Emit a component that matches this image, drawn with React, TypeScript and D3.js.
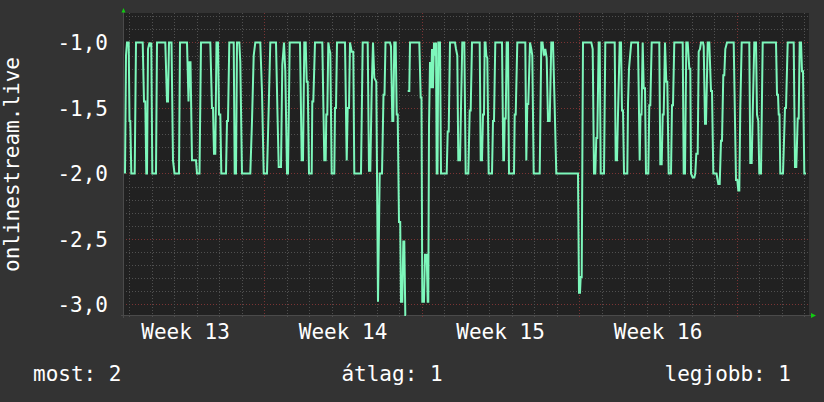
import React from "react";
import * as d3 from "d3";

const W = 824;
const H = 402;
const STEP_MS = 64 * 60 * 1000; // one consolidated row per 64 minutes
const START = Date.UTC(2024, 2, 25, 17, 17);
const N_STEPS = 686;

const Y_DOMAIN: [number, number] = [-3.088, -0.775];
const Y_MAJOR = [-1.0, -1.5, -2.0, -2.5, -3.0];
const Y_MAJOR_LABELS = ["-1,0", "-1,5", "-2,0", "-2,5", "-3,0"];
const AXIS_TITLE = "onlinestream.live";
const LEGEND_NAMES = ["most", "átlag", "legjobb"];
const LEGEND_VALUES = ["2", "1", "1"];
const WEEK_PREFIX = "Week";

// [row index, value] ; null = unknown
const SERIES: [number, number | null][] = [
  [2, -2.0], [3, -1.1], [4, -1.0], [5.7, -1.0], [6.5, -1.6], [7.3, -1.6], [8.3, -2.0], [11.7, -2.0],
  [13, -1.0], [19.7, -1.0], [21, -1.45], [22.3, -1.45], [23.3, -2.0], [24, -2.0], [25, -1.05], [26.5, -1.0],
  [27.5, -1.03], [28.3, -1.0], [29.3, -2.0], [33, -2.0], [34, -1.0], [42.3, -1.0], [44, -1.45], [45, -1.45],
  [46, -1.0], [48.5, -1.0], [50, -1.9], [51.5, -2.0], [56, -2.0], [57, -1.0], [64, -1.0], [65.5, -1.45],
  [66.5, -1.15], [67.5, -1.15], [69, -1.9], [73, -1.9], [74, -2.0], [76.5, -2.0], [78, -1.0], [87.3, -1.0],
  [89, -1.5], [90, -1.5], [91, -1.85], [92.3, -1.85], [93.5, -1.0], [95, -1.0], [96, -1.55], [97.3, -1.55],
  [98.3, -2.0], [103, -2.0], [104, -1.6], [105, -1.6], [106.3, -1.0], [110.7, -1.0], [111.7, -2.0], [113, -2.0],
  [114, -1.0], [116.3, -1.0], [117.3, -1.15], [119, -2.0], [127.3, -2.0], [129, -1.6], [130.7, -1.1], [132.3, -1.0],
  [137.3, -1.0], [139, -1.38], [140.7, -2.0], [144, -2.0], [145.7, -1.5], [147.3, -1.0], [153, -1.0], [154.5, -1.55],
  [155.7, -1.95], [158, -1.95], [159.3, -1.17], [161, -1.0], [162.3, -1.22], [164, -2.0], [165, -2.0], [166.7, -1.0],
  [177, -1.0], [178.7, -1.9], [180, -1.9], [181.3, -1.0], [182.7, -1.0], [183.7, -1.3], [184.7, -1.3], [186, -2.0],
  [188.7, -2.0], [189.3, -1.45], [190.3, -1.45], [192, -1.0], [199.3, -1.0], [201.3, -1.9], [202.7, -1.9], [203.3, -1.55],
  [204.3, -1.55], [205.3, -1.0], [206.3, -1.05], [207.3, -1.08], [208.7, -2.0], [211.3, -2.0], [212, -1.5], [213, -1.5],
  [214, -1.0], [222, -1.0], [223.7, -1.9], [224.7, -1.5], [226, -1.5], [227, -1.0], [228.7, -1.07], [230.3, -1.07],
  [231.3, -2.0], [238, -2.0], [239.7, -1.0], [244.7, -1.0], [246, -1.98], [247.3, -1.98], [248.7, -1.35], [250, -1.0],
  [251.3, -1.27], [253.3, -1.3], [255, -2.98], [256.7, -2.0], [259, -2.0], [260.5, -1.4], [261.5, -1.4], [262.5, -1.0],
  [267, -1.0], [268, -1.03], [269.3, -1.6], [270.3, -1.6], [271.3, -1.0], [272.7, -1.0], [273.7, -1.55], [274.7, -1.55],
  [276, -2.37], [277.2, -2.37], [278, -2.98], [279.3, -2.98], [280.3, -2.52], [281.3, -2.52], [282.3, -3.08], [283, -3.08],
  [283.5, null], [284.7, -1.37], [286.3, -1.37], [287, -1.0], [296.3, -1.0], [297.7, -1.42], [298.5, -1.42], [299.3, -2.98],
  [301, -2.98], [302, -2.62], [303.7, -2.62], [304.7, -2.98], [305.3, -2.98], [306, -1.64], [307, -1.15], [308, -1.35],
  [309, -1.05], [310, -1.35], [311, -1.0], [312, -1.1], [313, -1.0], [313.7, -2.0], [314.5, -2.0], [315.3, -1.0],
  [317, -1.0], [318, -2.0], [323.7, -2.0], [324.7, -1.68], [325.7, -1.68], [327, -1.0], [332, -1.0], [333, -1.05],
  [334.3, -1.1], [335.3, -1.9], [337, -1.9], [338, -1.5], [339.3, -1.0], [341.3, -1.0], [342.7, -2.0], [345.3, -2.0],
  [346.7, -1.52], [347.7, -1.52], [349, -1.0], [356.7, -1.0], [357.7, -1.9], [359, -1.9], [360, -1.55], [361, -1.55],
  [361.7, -1.0], [362.5, -1.0], [363.3, -1.1], [364.3, -1.12], [365.7, -2.0], [369, -2.0], [370, -1.6], [371, -1.6],
  [372.3, -1.0], [379, -1.0], [380.3, -1.9], [381, -1.9], [381.7, -1.58], [382.7, -1.58], [383.7, -1.0], [385, -1.0],
  [386, -2.0], [391, -2.0], [391.7, -1.55], [392.7, -1.55], [394.3, -1.0], [402.3, -1.0], [403.3, -1.9], [404.3, -1.47],
  [405.3, -1.47], [407, -1.0], [408.3, -1.05], [409.3, -1.1], [410.7, -2.0], [416.7, -2.0], [418.3, -1.0], [419.5, -1.0],
  [421, -1.1], [422.3, -1.05], [423.7, -1.12], [425, -1.6], [426.7, -1.6], [428.3, -1.0], [430, -1.0], [431.7, -1.5],
  [433.3, -2.0], [455, -2.0], [456, -2.91], [457, -2.91], [457.7, -2.79], [458.7, -2.79], [460, -1.0], [468.3, -1.0],
  [469.7, -1.05], [471, -2.0], [472.3, -2.0], [473.3, -1.73], [474.3, -1.73], [475.7, -1.0], [476.7, -1.0], [477.7, -2.0],
  [481, -2.0], [482.3, -1.0], [491.7, -1.0], [492.7, -1.9], [494, -1.9], [495, -1.55], [496.7, -1.0], [498, -1.0],
  [499, -1.52], [500, -1.52], [501, -2.0], [504.3, -2.0], [505, -1.47], [506, -1.2], [507.7, -1.05], [508.3, -1.0],
  [515, -1.0], [516.7, -1.9], [517.5, -1.55], [518.5, -1.55], [519.7, -1.0], [520.7, -1.35], [522, -1.35], [523, -2.0],
  [525.3, -2.0], [526.3, -1.48], [527.3, -1.48], [528.7, -1.0], [536.3, -1.0], [537.3, -1.93], [538.7, -1.93], [539.7, -1.55],
  [540.7, -1.55], [542, -1.0], [543.3, -1.3], [544.3, -1.3], [545.7, -2.0], [548, -2.0], [549, -1.48], [550, -1.48],
  [551.3, -1.0], [559.7, -1.0], [560.7, -2.0], [562, -2.0], [563.3, -1.0], [564.7, -1.0], [566.3, -1.2], [567.3, -1.2],
  [568, -2.0], [569.7, -2.03], [571.3, -2.03], [572.3, -2.0], [573.3, -1.85], [574.7, -1.85], [575.7, -1.07], [577, -1.05],
  [578, -1.0], [580, -1.0], [580.7, -1.03], [582, -1.62], [583, -1.62], [584.7, -1.0], [586.3, -1.0], [588, -1.37],
  [589, -1.37], [590.3, -2.0], [593.5, -2.0], [595.3, -2.08], [596.7, -2.08], [598, -1.75], [599, -1.75], [600.3, -1.25],
  [601.3, -1.25], [602.3, -1.05], [604, -1.0], [610.7, -1.0], [612, -1.6], [613, -2.05], [614.3, -2.05], [615.3, -2.13],
  [616.3, -2.13], [617.3, -1.5], [618.7, -1.0], [626.3, -1.0], [627.3, -1.92], [628.7, -1.92], [629.7, -1.55], [631.3, -1.0],
  [633, -1.0], [634, -1.55], [635.3, -1.6], [636.3, -2.0], [638, -2.0], [639.7, -1.0], [653, -1.0], [654, -1.4],
  [655, -1.4], [655.7, -1.55], [656.5, -1.55], [657.3, -2.0], [660, -2.0], [662, -1.5], [663, -1.5], [664.7, -1.0],
  [670.7, -1.0], [672, -1.95], [673.3, -1.95], [674.7, -1.58], [675.7, -1.58], [676.7, -1.0], [678, -1.0], [679, -1.22],
  [680, -1.22], [681.3, -2.0], [683, -2.0],
];

const FONT = "'DejaVu Sans Mono', monospace";
const BG = "#333333";
const CANVAS = "#212121";
const MINOR = "#505050";
const MAJOR = "#7a3434";
const LINE = "#7df7bb";
const TEXT = "#ffffff";
const ARROW = "#11cc11";

export default function App() {
  const t0 = new Date(START);
  const t1 = new Date(START + N_STEPS * STEP_MS);
  const x = d3.scaleUtc().domain([t0, t1]).range([123, 809]);
  const y = d3.scaleLinear().domain(Y_DOMAIN).range([316, 13]);
  const [px0, px1] = x.range();
  const [py0, py1] = y.range();

  const line = d3
    .line<[number, number | null]>()
    .defined((d) => d[1] !== null)
    .x((d) => x(new Date(START + d[0] * STEP_MS)))
    .y((d) => y(d[1] as number));

  const days = d3.utcDay.range(t0, t1);
  const weeks = d3.utcMonday.range(t0, t1);
  const weekLabels = d3.utcMonday
    .range(d3.utcMonday.floor(t0), t1)
    .map((m) => ({ m, mid: new Date(+m + 3.5 * 864e5) }))
    .filter((d) => d.mid >= t0 && d.mid <= t1);
  const yMinor = d3.ticks(Y_DOMAIN[0], Y_DOMAIN[1], 25);
  const isMajorY = (v: number) => Y_MAJOR.some((m) => Math.abs(m - v) < 1e-6);
  const isWeek = (d: Date) => weeks.some((w) => +w === +d);
  const weekNum = d3.utcFormat("%V");

  return (
    <svg width={W} height={H} style={{ position: "absolute", left: 0, top: 0, display: "block" }}>
      <rect x={0} y={0} width={W} height={H} fill={BG} />
      <rect x={px0} y={py1} width={px1 - px0} height={py0 - py1} fill={CANVAS} />
      {yMinor.map((v) => (
        <line
          key={"h" + v}
          x1={px0}
          x2={px1}
          y1={Math.round(y(v)) + 0.5}
          y2={Math.round(y(v)) + 0.5}
          stroke={isMajorY(v) ? MAJOR : MINOR}
          strokeDasharray="1,2"
        />
      ))}
      {days.map((d) => (
        <line
          key={"v" + +d}
          x1={Math.round(x(d)) + 0.5}
          x2={Math.round(x(d)) + 0.5}
          y1={py1}
          y2={py0 + 2}
          stroke={isWeek(d) ? MAJOR : MINOR}
          strokeDasharray="1,2"
        />
      ))}
      <line x1={px0 + 0.5} x2={px0 + 0.5} y1={py1 - 4} y2={py0 + 2} stroke="#4a4a4a" />
      <line x1={px0 - 2} x2={px1 + 3} y1={py0 - 0.5} y2={py0 - 0.5} stroke="#4a4a4a" />
      <path d={`M${px0 - 1.5},${py1 - 0.5} L${px0 + 2.5},${py1 - 0.5} L${px0 + 0.5},${py1 - 5} Z`} fill={ARROW} />
      <path d={`M${px1 + 2},${py0 - 3} L${px1 + 2},${py0 + 2} L${px1 + 7},${py0 - 0.5} Z`} fill={ARROW} />
      <path d={line(SERIES) || ""} fill="none" stroke={LINE} strokeWidth={2} strokeLinejoin="miter" />
      {Y_MAJOR.map((v, i) => (
        <text
          key={"yl" + v}
          x={108}
          y={y(v)}
          dy="0.36em"
          textAnchor="end"
          fill={TEXT}
          fontFamily={FONT}
          fontSize={21}
        >
          {Y_MAJOR_LABELS[i]}
        </text>
      ))}
      <text
        transform={`translate(19,${(py0 + py1) / 2}) rotate(-90)`}
        textAnchor="middle"
        fill={TEXT}
        fontFamily={FONT}
        fontSize={21}
      >
        {AXIS_TITLE}
      </text>
      {weekLabels.map((d) => (
        <text
          key={"wl" + +d.m}
          x={x(d.mid)}
          y={339}
          textAnchor="middle"
          fill={TEXT}
          fontFamily={FONT}
          fontSize={21}
        >
          {`${WEEK_PREFIX} ${+weekNum(d.m)}`}
        </text>
      ))}
      <text x={33} y={381} fill={TEXT} fontFamily={FONT} fontSize={21} textAnchor="start">
        {`${LEGEND_NAMES[0]}: ${LEGEND_VALUES[0]}`}
      </text>
      <text x={392} y={381} fill={TEXT} fontFamily={FONT} fontSize={21} textAnchor="middle">
        {`${LEGEND_NAMES[1]}: ${LEGEND_VALUES[1]}`}
      </text>
      <text x={791} y={381} fill={TEXT} fontFamily={FONT} fontSize={21} textAnchor="end">
        {`${LEGEND_NAMES[2]}: ${LEGEND_VALUES[2]}`}
      </text>
    </svg>
  );
}
